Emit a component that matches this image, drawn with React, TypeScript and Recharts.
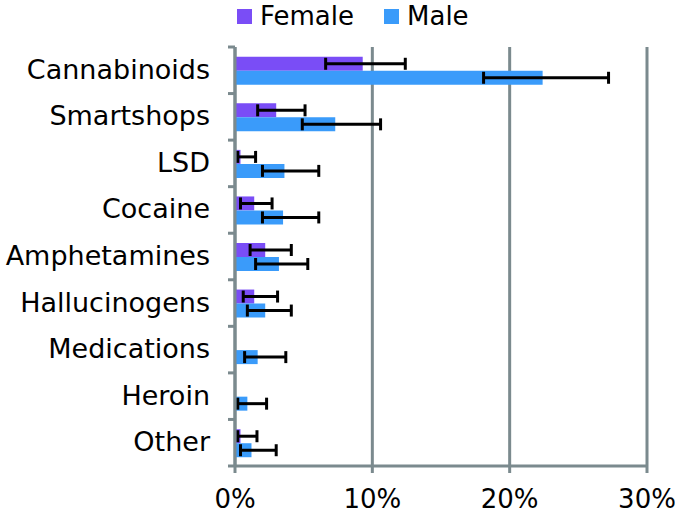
import React from "react";
import { BarChart, Bar, XAxis, YAxis, CartesianGrid, ErrorBar, Legend } from "recharts";

const categories = [
  "Cannabinoids",
  "Smartshops",
  "LSD",
  "Cocaine",
  "Amphetamines",
  "Hallucinogens",
  "Medications",
  "Heroin",
  "Other",
];

// values in %
const female = [9.3, 3.0, 0.4, 1.4, 2.2, 1.4, 0, 0, 0.4];
const femaleLow = [6.6, 1.65, 0.2, 0.4, 1.1, 0.6, 0, 0, 0.2];
const femaleHigh = [12.4, 5.1, 1.5, 2.7, 4.1, 3.1, 0, 0, 1.6];

const male = [22.4, 7.3, 3.6, 3.5, 3.2, 2.2, 1.65, 0.9, 1.2];
const maleLow = [18.1, 4.9, 2.0, 2.0, 1.5, 0.9, 0.7, 0.2, 0.4];
const maleHigh = [27.2, 10.6, 6.1, 6.1, 5.3, 4.1, 3.7, 2.3, 3.0];

const xTicks = [0, 10, 20, 30];

const FEMALE_COLOR = "#7A4DF6";
const MALE_COLOR = "#3A9BFA";
const GRID = "#7B8A8E";
const FONT = "DejaVu Sans";

const W = 675;
const H = 521;
const TOP = 47;
const BOTTOM_AXIS = 55;
const Y_AXIS_W = 235;
const BAND = (H - TOP - BOTTOM_AXIS) / categories.length;

const data = categories.map((name, i) => ({
  name,
  female: female[i],
  male: male[i],
  femaleErr: female[i] > 0 ? [female[i] - femaleLow[i], femaleHigh[i] - female[i]] : undefined,
  maleErr: [male[i] - maleLow[i], maleHigh[i] - male[i]],
}));

function CategoryTick(props: any) {
  const { x, y, payload, index } = props;
  const axisX = Y_AXIS_W;
  const top = y - BAND / 2;
  const bottom = y + BAND / 2;
  return (
    <g>
      <line x1={axisX - 7} x2={axisX} y1={top} y2={top} stroke={GRID} strokeWidth={3} />
      {index === categories.length - 1 && (
        <line x1={axisX - 7} x2={axisX} y1={bottom} y2={bottom} stroke={GRID} strokeWidth={3} />
      )}
      <text
        x={x}
        y={y - 1}
        textAnchor="end"
        dominantBaseline="central"
        fontFamily={FONT}
        fontSize={27}
        fill="#000"
      >
        {payload.value}
      </text>
    </g>
  );
}

function LegendContent() {
  const items = [
    { label: "Female", color: FEMALE_COLOR },
    { label: "Male", color: MALE_COLOR },
  ];
  return (
    <div style={{ display: "flex", paddingLeft: 237, fontFamily: FONT, fontSize: 26, lineHeight: "32px" }}>
      {items.map((it) => (
        <div key={it.label} style={{ display: "flex", alignItems: "center", marginRight: 30 }}>
          <span style={{ width: 15, height: 15, background: it.color, display: "inline-block", marginRight: 8 }} />
          <span>{it.label}</span>
        </div>
      ))}
    </div>
  );
}

export default function App() {
  return (
    <div style={{ position: "absolute", left: 0, top: 0, width: W, height: H, background: "#fff" }}>
      <BarChart
        width={W}
        height={H}
        data={data}
        layout="vertical"
        margin={{ top: TOP, right: 28, bottom: 0, left: 0 }}
        barCategoryGap="21%"
        barGap={0}
      >
        <CartesianGrid horizontal={false} stroke={GRID} strokeWidth={3} />
        <XAxis
          type="number"
          domain={[0, 30]}
          ticks={xTicks}
          height={BOTTOM_AXIS}
          tickFormatter={(v) => `${v}%`}
          axisLine={{ stroke: GRID, strokeWidth: 3 }}
          tickLine={{ stroke: GRID, strokeWidth: 3 }}
          tickSize={7}
          tickMargin={17}
          tick={{ fontFamily: FONT, fontSize: 26, fill: "#000" }}
        />
        <YAxis
          type="category"
          dataKey="name"
          width={Y_AXIS_W}
          axisLine={{ stroke: GRID, strokeWidth: 3 }}
          tickLine={false}
          tickSize={0}
          tickMargin={25}
          interval={0}
          tick={<CategoryTick />}
        />
        <Legend
          verticalAlign="middle"
          align="center"
          layout="horizontal"
          wrapperStyle={{ top: 0, left: 0, width: W }}
          content={<LegendContent />}
        />
        <Bar dataKey="female" name="Female" fill={FEMALE_COLOR} isAnimationActive={false}>
          <ErrorBar dataKey="femaleErr" direction="x" width={6} stroke="#000" strokeWidth={3} />
        </Bar>
        <Bar dataKey="male" name="Male" fill={MALE_COLOR} isAnimationActive={false}>
          <ErrorBar dataKey="maleErr" direction="x" width={6} stroke="#000" strokeWidth={3} />
        </Bar>
      </BarChart>
    </div>
  );
}
